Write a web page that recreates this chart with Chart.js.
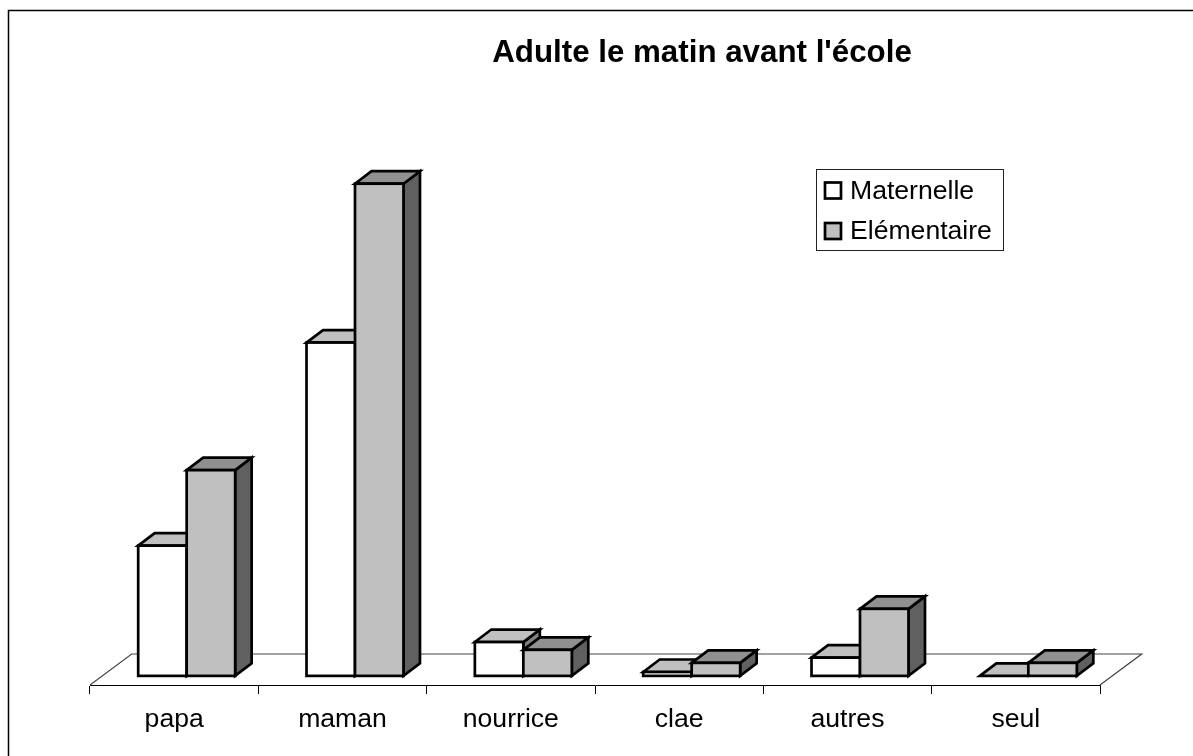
<!DOCTYPE html>
<html>
<head>
<meta charset="utf-8">
<style>
  html, body { margin: 0; padding: 0; background: #fff; }
  canvas { display: block; }
</style>
<script src="https://cdn.jsdelivr.net/npm/chart.js@4"></script>
</head>
<body>
<canvas id="chart" width="1193" height="756"></canvas>
<script>
// valeurs
const categories = ["papa", "maman", "nourrice", "clae", "autres", "seul"];
const maternelle = [10, 25.6, 2.6, 0.3, 1.4, 0];
const elementaire = [15.8, 37.8, 2, 1, 5.15, 1];

const FONT = "'Liberation Sans', Arial, sans-serif";
const DEPTH_X = 16.5, DEPTH_Y = 12.5;   // profondeur des barres
const FLOOR_X = 41.7, FLOOR_Y = 31;     // profondeur du sol
const BAR_SHIFT = 12.5;                 // les barres sont posees au milieu du sol
const STROKE = 2.7;

const faces = [
  { front: "#ffffff", top: "#c0c0c0", side: "#808080" },
  { front: "#c0c0c0", top: "#909090", side: "#606060" }
];

function poly(ctx, pts, fill) {
  ctx.beginPath();
  pts.forEach((p, i) => i ? ctx.lineTo(p[0], p[1]) : ctx.moveTo(p[0], p[1]));
  ctx.closePath();
  ctx.fillStyle = fill;
  ctx.fill();
  ctx.stroke();
}

const bars3d = {
  id: "bars3d",
  afterDatasetsUpdate(chart) {
    chart.data.datasets.forEach((ds, i) => {
      chart.getDatasetMeta(i).data.forEach(el => {
        // "order" inverse la position des barres : on la remet (Maternelle a gauche)
        el.x += BAR_SHIFT + (i === 0 ? -el.width : el.width);
      });
    });
  },
  afterLayout(chart) {
    // titre centre a droite du graphique
    chart.titleBlock.left += 214;
  },
  beforeDatasetsDraw(chart) {
    const { ctx, chartArea: a } = chart;
    ctx.save();
    // cadre
    ctx.strokeStyle = "#000";
    ctx.lineWidth = 1.5;
    ctx.beginPath();
    ctx.moveTo(8.5, 756);
    ctx.lineTo(8.5, 10.5);
    ctx.lineTo(1193, 10.5);
    ctx.stroke();
    // sol
    ctx.lineWidth = 1.2;
    ctx.beginPath();
    ctx.moveTo(a.left, a.bottom);
    ctx.lineTo(a.left + FLOOR_X, a.bottom - FLOOR_Y);
    ctx.lineTo(a.right + FLOOR_X, a.bottom - FLOOR_Y);
    ctx.lineTo(a.right, a.bottom);
    ctx.strokeStyle = "#444";
    ctx.stroke();
    ctx.restore();
  },
  beforeDatasetDraw(chart, args) {
    const { ctx } = chart;
    const f = faces[args.index];
    ctx.save();
    ctx.strokeStyle = "#000";
    ctx.lineWidth = STROKE;
    args.meta.data.forEach(el => {
      const l = el.x - el.width / 2, r = el.x + el.width / 2;
      const t = el.y, b = el.base;
      poly(ctx, [[r, t], [r + DEPTH_X, t - DEPTH_Y], [r + DEPTH_X, b - DEPTH_Y], [r, b]], f.side);
      poly(ctx, [[l, t], [l + DEPTH_X, t - DEPTH_Y], [r + DEPTH_X, t - DEPTH_Y], [r, t]], f.top);
    });
    ctx.restore();
  },
  afterDatasetDraw(chart, args) {
    const { ctx } = chart;
    ctx.save();
    ctx.strokeStyle = "#000";
    ctx.lineWidth = STROKE;
    args.meta.data.forEach(el => {
      const l = el.x - el.width / 2;
      if (el.base - el.y > 0.5) ctx.strokeRect(l, el.y, el.width, el.base - el.y);
    });
    ctx.restore();
  },
  afterDraw(chart) {
    // legende
    const { ctx } = chart;
    ctx.save();
    ctx.fillStyle = "#fff";
    ctx.strokeStyle = "#222";
    ctx.lineWidth = 1;
    ctx.fillRect(816, 169.5, 188, 81);
    ctx.strokeRect(816.5, 169.5, 187, 81);
    chart.data.datasets.forEach((ds, i) => {
      const y = 190.5 + i * 40.5;
      ctx.lineWidth = STROKE;
      ctx.strokeStyle = "#000";
      ctx.fillStyle = ds.backgroundColor;
      ctx.fillRect(825, y - 8, 16, 16);
      ctx.strokeRect(825, y - 8, 16, 16);
      ctx.fillStyle = "#000";
      ctx.font = "26.6px " + FONT;
      ctx.textAlign = "left";
      ctx.textBaseline = "middle";
      ctx.fillText(ds.label, 850, y + 1);
    });
    ctx.restore();
  }
};

new Chart(document.getElementById("chart"), {
  type: "bar",
  data: {
    labels: categories,
    datasets: [
      { label: "Maternelle", data: maternelle, backgroundColor: faces[0].front, order: 2, clip: false },
      { label: "Elémentaire", data: elementaire, backgroundColor: faces[1].front, order: 1, clip: false }
    ]
  },
  options: {
    responsive: false,
    animation: false,
    devicePixelRatio: 1,
    layout: { padding: { left: 90, right: 93, top: 0, bottom: 0 } },
    categoryPercentage: 0.576,
    barPercentage: 1,
    scales: {
      x: {
        afterFit(scale) { scale.height = 71; },
        grid: { drawOnChartArea: false, color: "#000", tickLength: 9, tickColor: "#000" },
        border: { color: "#000", width: 1 },
        ticks: { color: "#000", font: { family: FONT, size: 26.6 }, padding: 10, maxRotation: 0 }
      },
      y: { display: false, min: -0.7, max: 43, grid: { display: false } }
    },
    plugins: {
      legend: { display: false },
      tooltip: { enabled: false },
      title: {
        display: true,
        text: "Adulte le matin avant l'école",
        color: "#000",
        font: { family: FONT, size: 31.3, weight: "bold", lineHeight: 32 / 31.3 },
        padding: { top: 37, bottom: 47 }
      }
    }
  },
  plugins: [bars3d]
});
</script>
</body>
</html>
